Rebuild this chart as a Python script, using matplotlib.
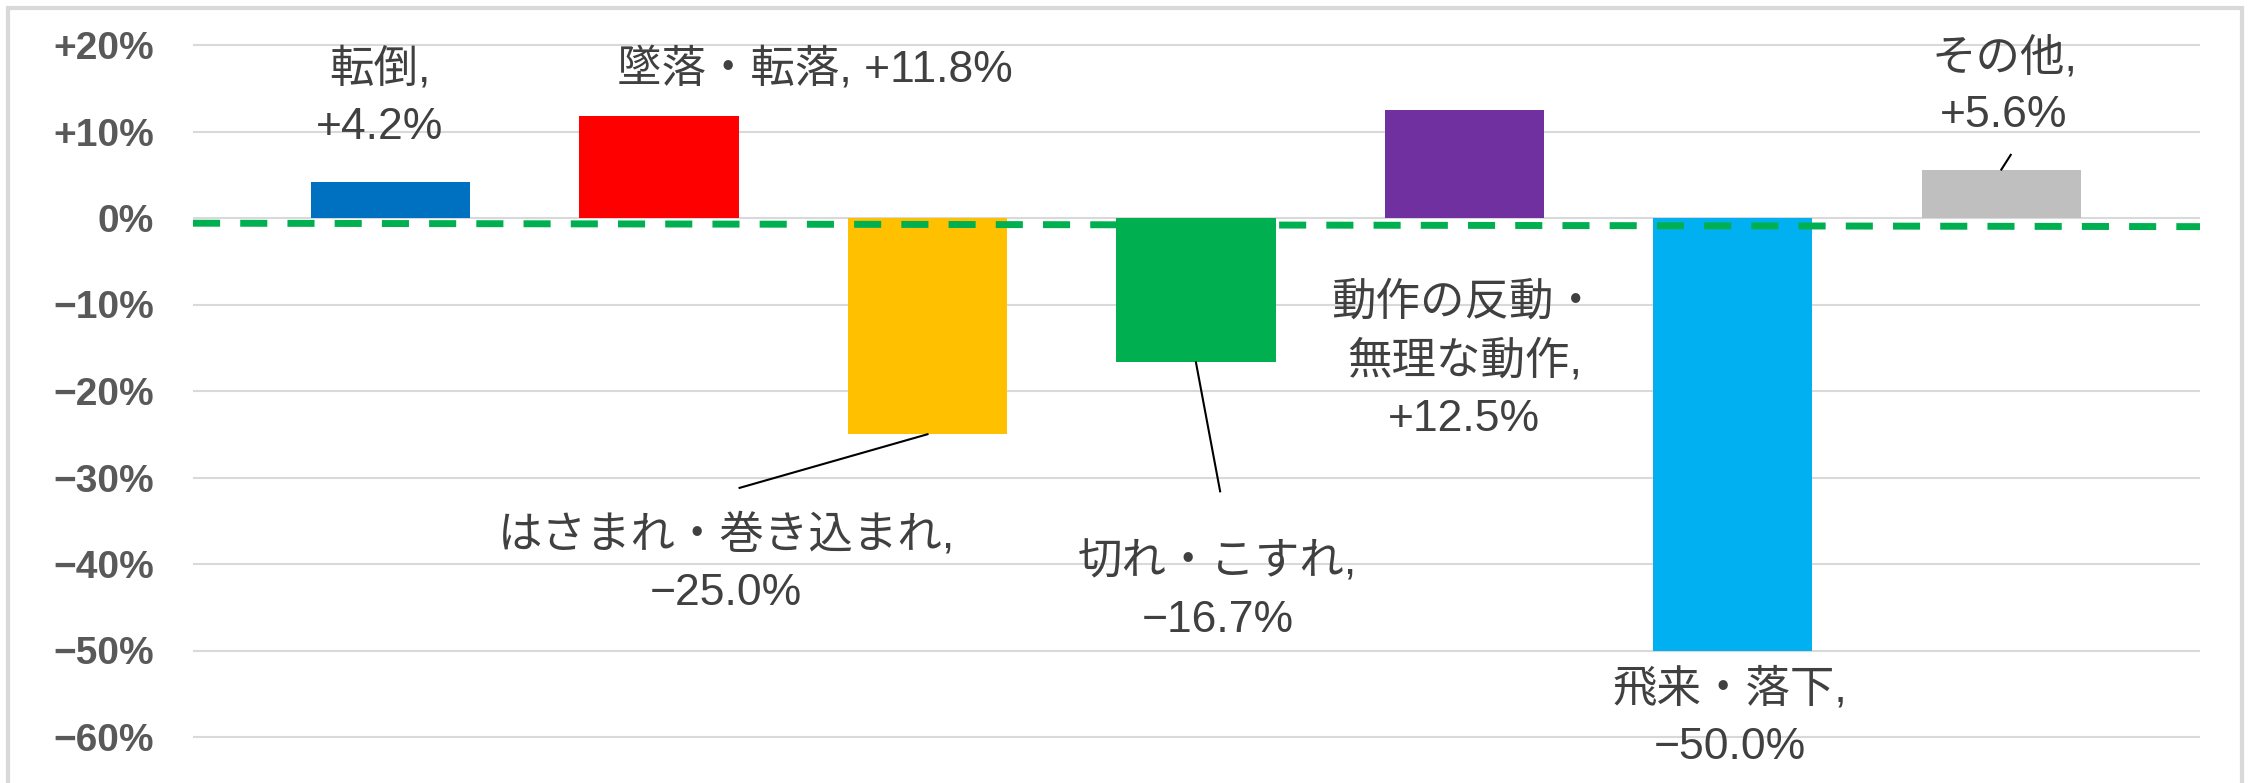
import numpy as np
import matplotlib
matplotlib.use("Agg")
import matplotlib.pyplot as plt
from matplotlib.patches import Rectangle

plt.rcParams['font.family'] = ['Noto Sans CJK JP', 'DejaVu Sans']

# --- data ---
categories = ["転倒", "墜落・転落", "はさまれ・巻き込まれ", "切れ・こすれ",
              "動作の反動・\n無理な動作", "飛来・落下", "その他"]
values = [4.2, 11.8, -25.0, -16.7, 12.5, -50.0, 5.6]
colors = ["#0070C0", "#FF0000", "#FFC000", "#00B050", "#7030A0", "#00B0F0", "#BFBFBF"]
yticks = [20, 10, 0, -10, -20, -30, -40, -50, -60]
trend_y = [-0.6, -1.0]   # dashed reference line, left/right ends

# label placement (data coords) and leader-line end points
label_pos = [(-0.04, 13.9), (1.58, 17.2), (1.25, -40.0), (3.08, -43.2),
             (4.0, -16.5), (4.99, -57.8), (6.01, 15.2)]
leaders = {2: (1.30, -31.2), 3: (3.09, -31.6), 6: (6.035, 7.3)}

W, H, DPI = 2251, 783, 100
fig = plt.figure(figsize=(W / DPI, H / DPI), dpi=DPI)

# chart frame
fig.patches.append(Rectangle((8 / W, -0.05), (2242 - 8) / W, 1.05 - 8 / H,
                             transform=fig.transFigure, fill=False,
                             edgecolor="#D9D9D9", linewidth=3))

xlim = (-0.736, 6.74)
y0_px, px_per_unit = 218, 8.65
ylim = ((y0_px - H) / px_per_unit, y0_px / px_per_unit)
ax = fig.add_axes([193 / W, 0, (2200 - 193) / W, 1])
ax.set_xlim(*xlim)
ax.set_ylim(*ylim)

x = np.arange(len(values))
ax.bar(x, values, width=0.593, color=colors, zorder=2)

for t in yticks:
    ax.axhline(t, color="#D9D9D9", linewidth=1.5, zorder=1)

ax.plot(list(xlim), trend_y, color="#00B050", linewidth=5,
        dashes=(3.9, 2.9), dash_capstyle="butt", zorder=3)

ax.set_yticks(yticks)
ax.set_yticklabels([("+%d%%" % t) if t > 0 else ("0%" if t == 0 else "−%d%%" % -t)
                    for t in yticks],
                   fontsize=28, fontweight="bold", color="#595959",
                   family=["Liberation Sans", "DejaVu Sans"])
ax.tick_params(axis="y", length=0, pad=28)
ax.set_xticks([])
for s in ax.spines.values():
    s.set_visible(False)

for i, (cat, v) in enumerate(zip(categories, values)):
    sign = "+" if v > 0 else "−"
    num = "%s%.1f%%" % (sign, abs(v))
    if i == 1:
        txt = cat + ", " + num
    else:
        txt = cat + ",\n" + num
    lx, ly = label_pos[i]
    ax.text(lx, ly, txt, ha="center", va="center", fontsize=32,
            color="#404040", linespacing=1.5, zorder=4,
            family=["Liberation Sans", "Noto Sans CJK JP", "DejaVu Sans"])
    if i in leaders:
        ex, ey = leaders[i]
        ax.plot([i, ex], [v, ey], color="black", linewidth=1.5, zorder=4)

fig.savefig("out.png", dpi=DPI)
